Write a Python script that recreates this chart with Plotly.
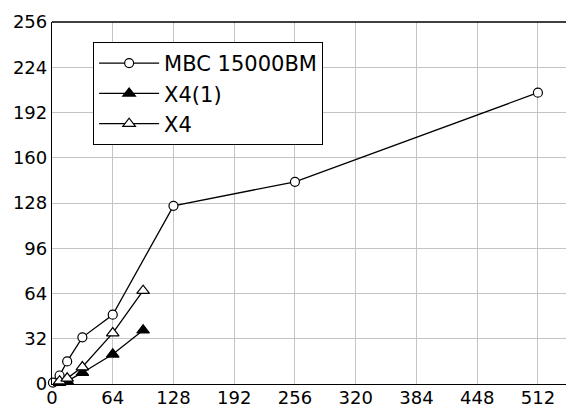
import plotly.graph_objects as go

mbc_x = [1, 8, 16, 32, 64, 128, 256, 512]
mbc_y = [1, 6, 16, 33, 49, 126, 143, 206]
x41_x = [8, 16, 32, 64, 96]
x41_y = [1, 2, 8, 21, 38]
x4_x = [8, 16, 32, 64, 96]
x4_y = [2, 4, 12, 36, 66]
x_ticks = [0, 64, 128, 192, 256, 320, 384, 448, 512]
y_ticks = [0, 32, 64, 96, 128, 160, 192, 224, 256]

FONT = "DejaVu Sans"

fig = go.Figure()
series = [
    ("MBC 15000BM", mbc_x, mbc_y, "circle", "white", 9),
    ("X4(1)", x41_x, x41_y, "triangle-up", "black", 11),
    ("X4", x4_x, x4_y, "triangle-up", "white", 11),
]
for name, xs, ys, sym, fill, sz in series:
    fig.add_trace(go.Scatter(
        x=xs, y=ys, name=name, mode="lines+markers",
        line=dict(color="black", width=1.3),
        marker=dict(symbol=sym, size=sz, color=fill, line=dict(color="black", width=1.2)),
        cliponaxis=False,
    ))

fig.update_layout(
    width=566, height=407,
    margin=dict(l=52, r=0, t=22, b=23),
    paper_bgcolor="white", plot_bgcolor="white",
    font=dict(family=FONT, size=18, color="black"),
    showlegend=True,
    legend=dict(
        x=0.08, y=0.945, xanchor="left", yanchor="top",
        bordercolor="black", borderwidth=1, bgcolor="white",
        font=dict(family=FONT, size=21, color="black"),
        tracegroupgap=0, itemwidth=60,
    ),
    xaxis=dict(
        range=[0, 541.6], tickvals=x_ticks, ticktext=[str(v) for v in x_ticks],
        showgrid=True, gridcolor="#c4c4c4", gridwidth=1,
        showline=True, linecolor="black", linewidth=1.3, mirror=False,
        zeroline=False, ticks="", tickfont=dict(family=FONT, size=18),
        automargin=False, ticklabelstandoff=-3,
    ),
    yaxis=dict(
        range=[0, 256], tickvals=y_ticks, ticktext=[str(v) for v in y_ticks],
        showgrid=True, gridcolor="#c4c4c4", gridwidth=1,
        showline=True, linecolor="black", linewidth=1.3,
        zeroline=False, ticks="", tickfont=dict(family=FONT, size=18),
        automargin=False,
    ),
)
# top border line of plot area
fig.add_shape(type="line", xref="paper", yref="paper", x0=0, x1=1, y0=1, y1=1,
              line=dict(color="black", width=1.3))

fig.write_html("out.html")
